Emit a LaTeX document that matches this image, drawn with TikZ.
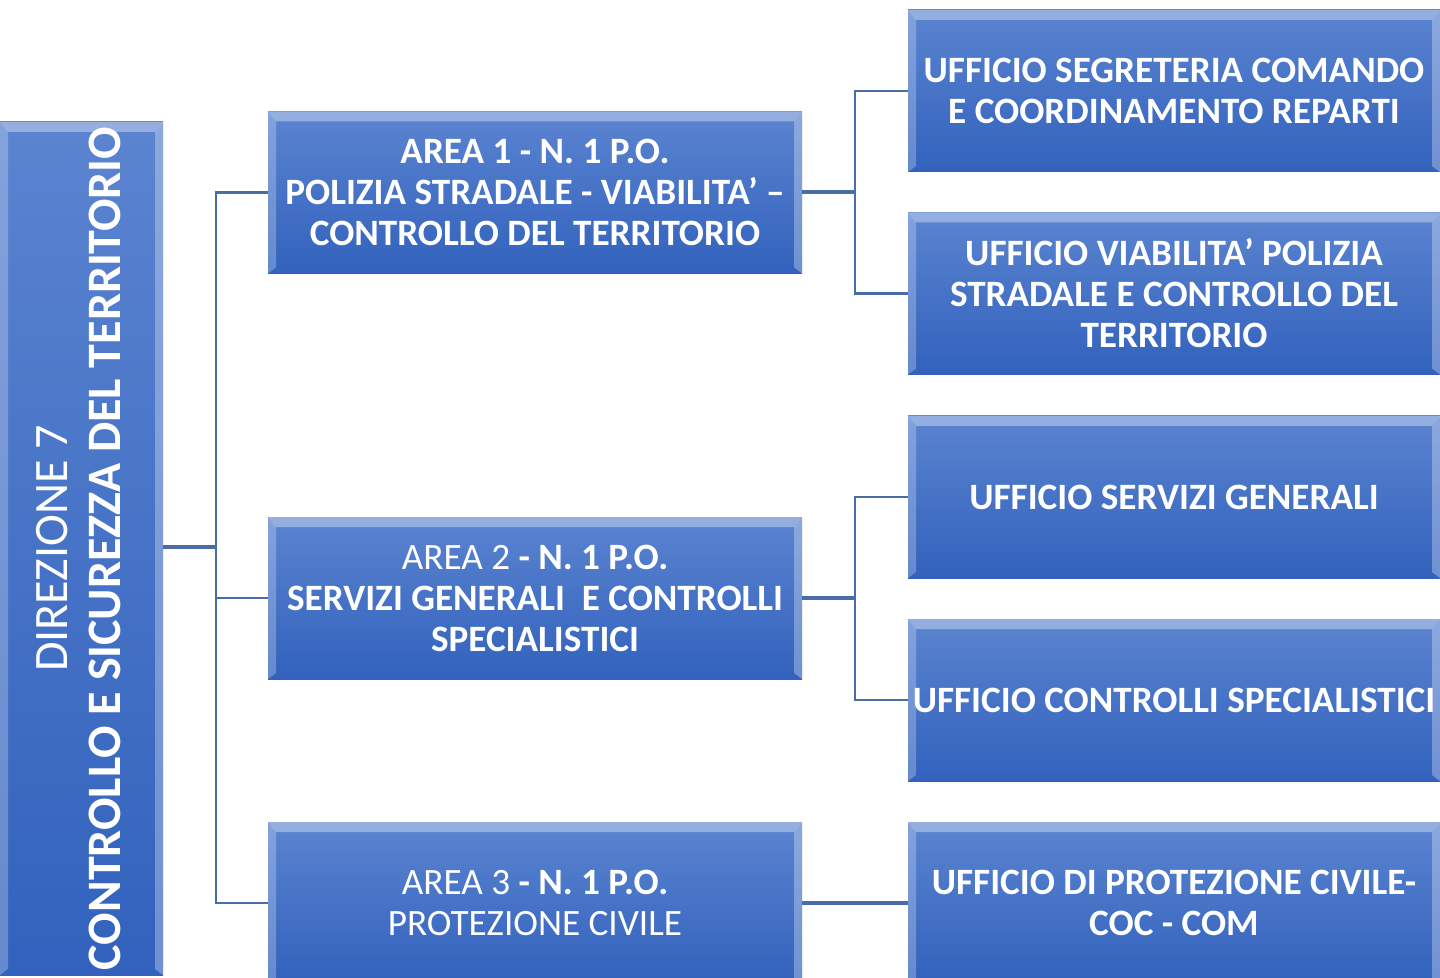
\documentclass[tikz,border=0pt]{standalone}
\usepackage{fontspec}
\setmainfont{Carlito}
\usetikzlibrary{positioning}
\definecolor{boxtop}{HTML}{5B84D0}
\definecolor{boxbot}{HTML}{3262BD}
\definecolor{linkblue}{HTML}{4A6DA7}
\tikzset{
    bevel/.style={path picture={
        \fill[white,opacity=.35] (path picture bounding box.north west) -- (path picture bounding box.north east)
          -- ([xshift=-4pt,yshift=-5pt]path picture bounding box.north east) -- ([xshift=4pt,yshift=-5pt]path picture bounding box.north west) -- cycle;
        \fill[white,opacity=.25] (path picture bounding box.north west) -- ([xshift=4pt,yshift=-5pt]path picture bounding box.north west)
          -- ([xshift=4pt,yshift=3pt]path picture bounding box.south west) -- (path picture bounding box.south west) -- cycle;
        \fill[white,opacity=.3] (path picture bounding box.north east) -- ([xshift=-4pt,yshift=-5pt]path picture bounding box.north east)
          -- ([xshift=-4pt,yshift=3pt]path picture bounding box.south east) -- (path picture bounding box.south east) -- cycle;
    }},
    box/.style={rectangle,top color=boxtop,bottom color=boxbot,bevel,text=white,align=center,inner sep=0pt,
      font=\fontsize{18.6}{20.5}\selectfont\bfseries,minimum width=#1,minimum height=81pt},
    box/.default=267pt,
    link/.style={draw=linkblue,line width=1.2pt}
}

\begin{document}
\begin{tikzpicture}[x=0.5pt,y=-0.5pt]
  \useasboundingbox (0,0) rectangle (1440,978);

  \node[box,minimum width=81.5pt,minimum height=426.5pt] (dir) at (81.5,548.5) {};
  \node[rotate=90,text=white,align=center,font=\fontsize{24}{26.5}\selectfont] (dirtext) at ([xshift=-1.5pt]dir.center)
    {DIREZIONE 7\\\textbf{CONTROLLO E SICUREZZA DEL TERRITORIO}};

  \node[box] (area1) at (535,192.5) {AREA 1 - N. 1 P.O.\\POLIZIA STRADALE - VIABILITA’ –\\CONTROLLO DEL TERRITORIO};
  \node[box] (area2) at (535,598) {{\mdseries AREA 2} - N. 1 P.O.\\SERVIZI GENERALI\ \ E CONTROLLI\\SPECIALISTICI};
  \node[box] (area3) at (535,903) {{\mdseries AREA 3} - N. 1 P.O.\\{\mdseries PROTEZIONE CIVILE}};

  \node[box=266pt] (uff1) at (1174,91) {UFFICIO SEGRETERIA COMANDO\\E COORDINAMENTO REPARTI};
  \node[box=266pt] (uff2) at (1174,293.5) {UFFICIO VIABILITA’ POLIZIA\\STRADALE E CONTROLLO DEL\\TERRITORIO};
  \node[box=266pt] (uff3) at (1174,497) {UFFICIO SERVIZI GENERALI};
  \node[box=266pt] (uff4) at (1174,700) {UFFICIO CONTROLLI SPECIALISTICI};
  \node[box=266pt] (uff5) at (1174,903) {UFFICIO DI PROTEZIONE CIVILE-\\COC - COM};

  \coordinate (j0) at (216,547);
  \coordinate (j1) at (855,192);
  \coordinate (j2) at (855,598);

  \draw[link,line width=2pt] (dir.east |- j0) -- (j0);
  \draw[link] (j0) |- (area1.west);
  \draw[link] (j0) |- (area2.west);
  \draw[link] (j0) |- (area3.west);
  \draw[link,line width=1.6pt] (area1.east |- j1) -- (j1);
  \draw[link] (j1) |- (uff1.west);
  \draw[link] (j1) |- (uff2.west);
  \draw[link,line width=1.6pt] (area2.east) -- (j2);
  \draw[link] (j2) |- (uff3.west);
  \draw[link] (j2) |- (uff4.west);
  \draw[link,line width=1.6pt] (area3.east) -- (uff5.west);
\end{tikzpicture}
\end{document}
